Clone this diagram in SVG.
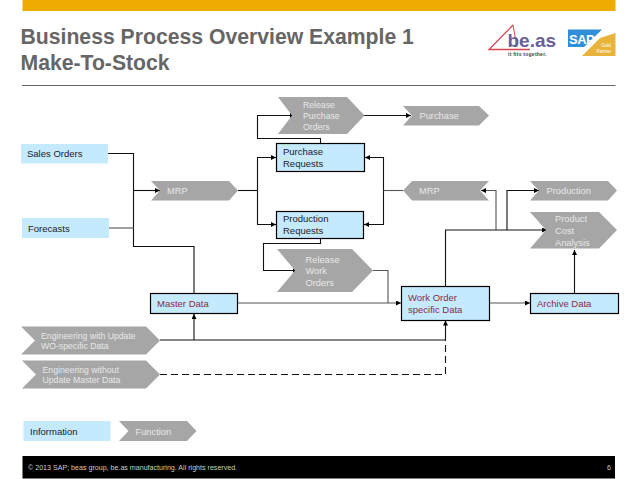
<svg xmlns="http://www.w3.org/2000/svg" width="638" height="479" viewBox="0 0 638 479">
<style>
text{font-family:"Liberation Sans",Arial,sans-serif}
.t{font-size:21.200px;font-weight:bold;fill:#666}
.fn{fill:#a6a6a6}
.ft{font-size:9.300px;fill:#e8e8e8}
.fs{font-size:8.700px;fill:#e8e8e8}
.inf{fill:#c5e9fd}
.box{fill:#c5e9fd;stroke:#000;stroke-width:1.2}
.it{font-size:9.500px;fill:#222}
.dt{font-size:9.500px;fill:#8c2a45}
.c{fill:none;stroke:#111;stroke-width:1.1}
.g{stroke:#555}
.a{marker-end:url(#ah)}
</style>
<defs><marker id="ah" markerUnits="userSpaceOnUse" markerWidth="6" markerHeight="6" refX="5" refY="2.500" orient="auto"><path d="M0 0L5 2.500L0 5Z" fill="#000"/></marker></defs>
<rect width="638" height="479" fill="#fff"/>
<rect x="22.500" y="0" width="593" height="11" fill="#f0ab00"/>
<text class="t" x="20.500" y="44">Business Process Overview Example 1</text>
<text class="t" x="20.500" y="70">Make-To-Stock</text>
<path d="M22 85.500H615.500" stroke="#666" stroke-width="1"/>
<g id="logo-beas"><path d="M513 25L489 49.500H530" fill="none" stroke="#d9434e" stroke-width="1.300"/><path d="M513 25L517 47" fill="none" stroke="#d9434e" stroke-width="1"/><text x="507.500" y="47" font-size="19" font-weight="bold" fill="#6a6098">be.as</text><text x="508" y="55.500" font-size="5" font-weight="bold" fill="#444" letter-spacing=".25">it fits together.</text></g>
<g id="logo-sap"><path d="M568 29.500H602L584 47H568Z" fill="#2f8fd8"/><path d="M582 56L600 38L615.500 33V56Z" fill="#e8b33a"/><text x="569" y="44" font-size="13" font-weight="bold" fill="#fff" letter-spacing="-.5">SAP</text><text x="606" y="47" font-size="4.500" fill="#fff" text-anchor="middle">Gold</text><text x="604" y="53" font-size="4.500" fill="#fff" text-anchor="middle">Partner</text></g>
<g id="connectors">
<path class="c" d="M108 153.500H133.500V246.500H194V293"/>
<path class="c g" d="M109 228H133.500"/>
<path class="c a" d="M133.500 190.500H160"/>
<path class="c" d="M238 190.500H257.500"/>
<path class="c a" d="M257.500 190.500V157.500H276"/>
<path class="c a" d="M257.500 190.500V224.500H276"/>
<path class="c a" d="M320.500 143V138.500H257.500V115.500H295"/>
<path class="c a" d="M364 115.500H411"/>
<path class="c g" d="M403 190.500H383.500"/>
<path class="c a" d="M383.500 190.500V157.500H365"/>
<path class="c a" d="M383.500 190.500V224.500H364"/>
<path class="c a" d="M320.500 238V243.500H263.500V270.500H297.500"/>
<path class="c g" d="M373 270.500H388V303"/>
<path class="c g a" d="M237.500 303H401"/>
<path class="c a" d="M445.500 286V230H547"/>
<path class="c g a" d="M496 230V190.500H481"/>
<path class="c a" d="M507 230V190.500H539"/>
<path class="c a" d="M574.500 293V250"/>
<path class="c g a" d="M489.500 303H530"/>
<path class="c a" d="M160 340H445.500V320.500"/>
<path class="c a" d="M194 340V314"/>
<path class="c" stroke-dasharray="7 4" d="M160 374.500H445.500V340"/>
</g>
<g id="release-purchase"><path class="fn" d="M278 97H347L364.500 115.500L347 134H278L292 115.500Z"/><text class="fs" x="303" y="108">Release</text><text class="fs" x="303" y="119">Purchase</text><text class="fs" x="303" y="130">Orders</text></g>
<g id="purchase"><path class="fn" d="M403 106H479L489 115.500L479 125.500H403L412 115.500Z"/><text class="ft" x="419.500" y="119">Purchase</text></g>
<g id="sales-orders"><rect class="inf" x="21" y="144" width="87" height="19.500"/><text class="it" x="27" y="157">Sales Orders</text></g>
<g id="forecasts"><rect class="inf" x="22" y="218" width="87" height="20"/><text class="it" x="28" y="232">Forecasts</text></g>
<g id="mrp-left"><path class="fn" d="M151 181H229L238 190.500L229 200.500H151L160 190.500Z"/><text class="ft" x="167" y="194">MRP</text></g>
<g id="purchase-requests"><rect class="box" x="276.500" y="143.500" width="88" height="28"/><text class="it" x="283" y="155">Purchase</text><text class="it" x="283" y="167">Requests</text></g>
<g id="production-requests"><rect class="box" x="276.500" y="211.500" width="87" height="27"/><text class="it" x="283" y="222">Production</text><text class="it" x="283" y="234">Requests</text></g>
<g id="mrp-right"><path class="fn" d="M403 190.500L412 181H489L480 190.500L489 200.500H412Z"/><text class="ft" x="419" y="194">MRP</text></g>
<g id="production"><path class="fn" d="M530 181H608L617 190.500L608 200.500H530L539 190.500Z"/><text class="ft" x="546.500" y="194">Production</text></g>
<g id="product-cost"><path class="fn" d="M530 212H599L617 230L599 248.500H530L546 230Z"/><text class="ft" x="555" y="222">Product</text><text class="ft" x="555" y="234">Cost</text><text class="ft" x="555" y="246">Analysis</text></g>
<g id="release-work"><path class="fn" d="M277 249H352L373 270.500L352 292H277L295 270.500Z"/><text class="ft" x="305.500" y="263">Release</text><text class="ft" x="305.500" y="274">Work</text><text class="ft" x="305.500" y="286">Orders</text></g>
<g id="master-data"><rect class="box" x="150.500" y="293.500" width="87" height="20"/><text class="dt" x="157" y="307">Master Data</text></g>
<g id="work-order"><rect class="box" x="401.500" y="286.500" width="88" height="34"/><text class="dt" x="408" y="301">Work Order</text><text class="dt" x="408" y="313">specific Data</text></g>
<g id="archive-data"><rect class="box" x="530.500" y="293.500" width="88" height="20"/><text class="dt" x="537" y="307">Archive Data</text></g>
<g id="eng-with"><path class="fn" d="M21 326.500H146L160 340.500L146 354.500H21L35 340.500Z"/><text class="fs" x="41" y="339">Engineering with Update</text><text class="fs" x="41" y="349">WO-specific Data</text></g>
<g id="eng-without"><path class="fn" d="M22 360.500H146L160 374.500L146 388.500H22L36 374.500Z"/><text class="fs" x="42.500" y="373">Engineering without</text><text class="fs" x="42.500" y="383">Update Master Data</text></g>
<g id="information"><rect class="inf" x="23.500" y="421" width="87" height="20"/><text class="it" x="30" y="435">Information</text></g>
<g id="function"><path class="fn" d="M119 421H187L196.500 431L187 441H119L128.500 431Z"/><text class="ft" x="135.500" y="435">Function</text></g>
<g id="footer"><rect x="22.500" y="456" width="592.500" height="22.500" fill="#000"/><text x="28" y="470" font-size="7.100" fill="#ccc">© 2013 SAP; beas group, be.as manufacturing. All rights reserved.</text><text x="607" y="470" font-size="7" fill="#ccc">6</text></g>
</svg>
